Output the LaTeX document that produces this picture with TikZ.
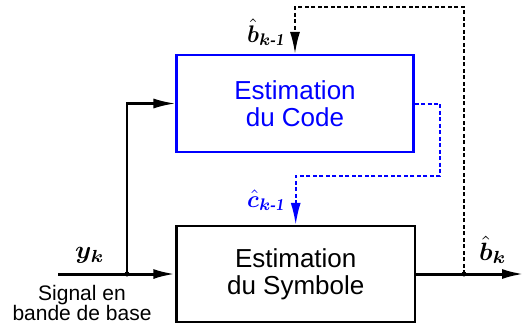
\documentclass[tikz,border=0pt]{standalone}
\usepackage{amsmath}
\usepackage{bm}
\usepackage{graphicx}
\usepackage{fontspec}
\setmainfont{Liberation Sans}
\usetikzlibrary{arrows.meta}
\newcommand{\kmo}{\bm{k}\text{\fontfamily{lmr}\bfseries\itshape -1}}
\newcommand{\wmath}[1]{\scalebox{2.3}[2.4]{$#1$}}
\newcommand{\wmathb}[1]{\scalebox{2.6}[2.5]{$#1$}}
\begin{document}
\begin{tikzpicture}[x=1pt,y=-1pt,
 blk/.style={draw, line width=2.2pt, align=center, inner sep=0pt,
   font=\fontsize{26}{27}\selectfont},
 sig/.style={line width=3pt},
 thin/.style={line width=2.2pt},
 arr/.style={-{Latex[length=22pt,width=10pt]}},
 dsh/.style={line width=2pt, dash pattern=on 4pt off 2.5pt},
 jdot/.style={circle, fill, inner sep=0pt, minimum size=5pt},
 lbl/.style={inner sep=0pt}]
\useasboundingbox (0,0) rectangle (525,324);
\node[blk, draw=blue, text=blue, minimum width=237pt, minimum height=97pt]
  (code) at (295,103.5) {Estimation\\du Code};
\node[blk, minimum width=238.5pt, minimum height=96pt]
  (sym) at (295.7,274) {Estimation\\du Symbole};
\coordinate (in) at (58,274);
\node[jdot] (J) at (127,274) {};
\node[jdot] (J2) at (464,274) {};
\coordinate (out) at (524,274);
\coordinate (tp) at (464,7);
\coordinate (bc) at (440,176);
% signal lines
\draw[sig,arr] (in) -- (sym.west);
\draw[thin,arr] (J.center) |- (code.west);
\draw[sig,arr] (sym.east) -- (out);
% feedback
\draw[dsh,arr] (J2.center) -- (tp) -| (code.north);
\draw[dsh,blue,arr] (code.east) -| (bc) -| (sym.north);
% labels
\node[lbl, anchor=base east] (lb1) at (285,42) {\wmath{\bm{\hat b}_{\kmo}}};
\node[lbl, anchor=base east, text=blue] (lc1) at (285,207) {\wmath{\bm{\hat c}_{\kmo}}};
\node[lbl, anchor=base west] (ly) at (75,258.5) {\wmathb{\bm{y}_{\bm{k}}}};
\node[lbl, anchor=base west] (lb) at (479,260) {\wmathb{\bm{\hat b}_{\bm{k}}}};
\node[align=center, anchor=north, inner sep=0pt, font=\fontsize{21}{20}\selectfont]
  (sig) at (82,285) {Signal en\\bande de base};
\end{tikzpicture}
\end{document}
